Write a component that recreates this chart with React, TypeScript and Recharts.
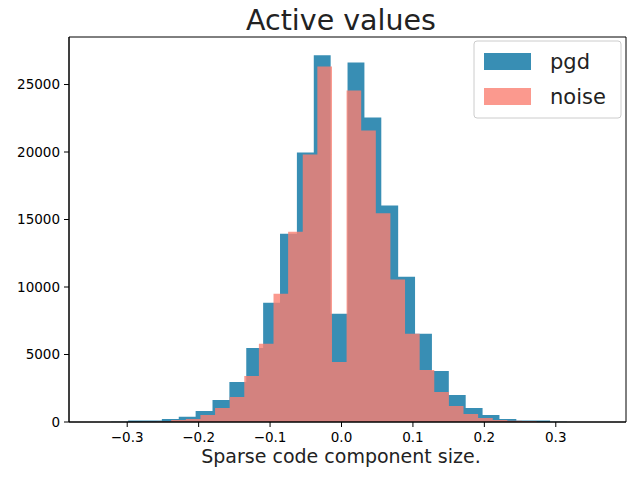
import { ComposedChart, Area, XAxis, YAxis, ReferenceArea } from 'recharts'

const FONT = '"DejaVu Sans", sans-serif'
const PGD_COLOR = '#388eb4'
const NOISE_COLOR = '#fa8072'

// histogram ranges (30 bins each)
const PGD_RANGE = [-0.346, 0.3629]
const NOISE_RANGE = [-0.3407, 0.2731]

const pgdCounts = [
  5, 10, 110, 110, 230, 390, 810, 1630, 2970, 5490,
  8830, 13950, 19960, 27160, 8010, 26640, 22560, 16030, 10760, 6530,
  3780, 2000, 1040, 520, 220, 110, 110, 10, 5, 2,
]
const noiseCounts = [
  0, 2, 5, 10, 30, 150, 220, 520, 1040, 1850,
  3410, 5790, 9500, 14100, 19810, 26340, 4450, 24560, 21590, 15460,
  10560, 6530, 3860, 2230, 1190, 590, 300, 150, 90, 80,
]

const xTicks = [-0.3, -0.2, -0.1, 0, 0.1, 0.2, 0.3]
const yTicks = [0, 5000, 10000, 15000, 20000, 25000]

const X_MIN = -0.3815
const X_MAX = 0.3983
const Y_MAX = 28520

const binEdges = (range: number[], n: number) => {
  const w = (range[1] - range[0]) / n
  return Array.from({ length: n + 1 }, (_, i) => range[0] + i * w)
}

const valueAt = (edges: number[], counts: number[], x: number) => {
  for (let i = 0; i < counts.length; i++) {
    if (x >= edges[i] - 1e-9 && x < edges[i + 1] - 1e-9) return counts[i]
  }
  return 0
}

const pgdEdges = binEdges(PGD_RANGE, pgdCounts.length)
const noiseEdges = binEdges(NOISE_RANGE, noiseCounts.length)

const data = [...pgdEdges, ...noiseEdges]
  .sort((a, b) => a - b)
  .map((x) => ({
    x,
    pgd: valueAt(pgdEdges, pgdCounts, x),
    noise: valueAt(noiseEdges, noiseCounts, x),
  }))

const fmtX = (v: number) => (v < 0 ? '\u2212' : '') + Math.abs(v).toFixed(1)

export default function App() {
  const tickStyle = { fill: '#000', fontSize: 13.5, fontFamily: FONT }
  return (
    <div style={{ position: 'relative', width: 640, height: 480, background: '#fff' }}>
      <style>{'body{margin:0}'}</style>
      <ComposedChart
        width={640}
        height={480}
        data={data}
        margin={{ top: 37, right: 14, bottom: 0, left: 0 }}
      >
        <XAxis
          type="number"
          dataKey="x"
          domain={[X_MIN, X_MAX]}
          ticks={xTicks}
          tickFormatter={fmtX}
          allowDataOverflow
          height={58}
          tickSize={5}
          tickMargin={5}
          stroke="#000"
          tick={tickStyle}
        />
        <YAxis
          type="number"
          domain={[0, Y_MAX]}
          ticks={yTicks}
          allowDataOverflow
          width={69}
          tickSize={5}
          tickMargin={4}
          stroke="#000"
          tick={tickStyle}
        />
        <Area
          type="stepAfter"
          dataKey="pgd"
          fill={PGD_COLOR}
          fillOpacity={1}
          stroke="none"
          isAnimationActive={false}
        />
        <Area
          type="stepAfter"
          dataKey="noise"
          fill={NOISE_COLOR}
          fillOpacity={0.8}
          stroke="none"
          isAnimationActive={false}
        />
        <ReferenceArea
          x1={X_MIN}
          x2={X_MAX}
          y1={0}
          y2={Y_MAX}
          fill="none"
          fillOpacity={0}
          stroke="#000"
          strokeWidth={1}
          ifOverflow="visible"
        />
      </ComposedChart>
      <svg
        width={640}
        height={480}
        style={{ position: 'absolute', left: 0, top: 0, pointerEvents: 'none' }}
        fontFamily={FONT}
      >
        <text x={341} y={29.5} textAnchor="middle" fontSize={28.5} fill="#222">
          Active values
        </text>
        <text x={341} y={463} textAnchor="middle" fontSize={19} fill="#222">
          Sparse code component size.
        </text>
        <rect x={474} y={41} width={147} height={77} rx={3} fill="#fff" fillOpacity={0.8} stroke="#cccccc" />
        <rect x={484} y={53} width={47} height={17} fill={PGD_COLOR} />
        <rect x={484} y={88} width={47} height={17} fill={NOISE_COLOR} fillOpacity={0.8} />
        <text x={550} y={69} fontSize={21} fill="#222">pgd</text>
        <text x={550} y={104} fontSize={21} fill="#222">noise</text>
      </svg>
    </div>
  )
}
